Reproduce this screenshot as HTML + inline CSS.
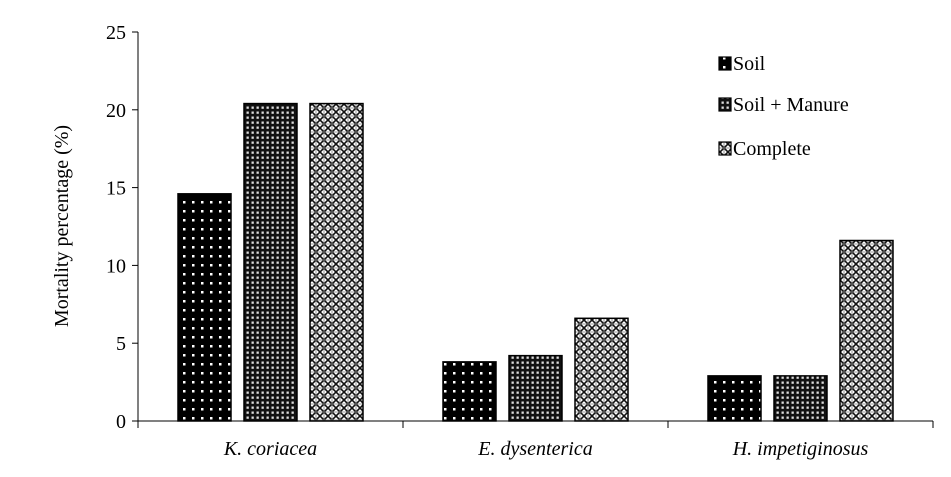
<!DOCTYPE html>
<html><head><meta charset="utf-8"><style>
html,body{margin:0;padding:0;background:#fff;}
svg{display:block;font-family:"Liberation Serif",serif;}
</style></head><body>
<svg id="chart" width="951" height="477" viewBox="0 0 951 477">
<defs>
<pattern id="pSoil" width="9" height="9" patternUnits="userSpaceOnUse">
<rect width="9" height="9" fill="#000"/><rect x="3" y="3" width="2.5" height="2.5" fill="#fff"/>
</pattern>
<pattern id="pMan" width="5" height="5" patternUnits="userSpaceOnUse">
<rect width="5" height="5" fill="#111"/><rect x="1.5" y="1.5" width="2.3" height="2.3" fill="#ddd"/>
</pattern>
<pattern id="pComp" width="8" height="8" patternUnits="userSpaceOnUse">
<rect width="8" height="8" fill="#fff"/>
<path d="M0,0L8,8M8,0L0,8" stroke="#111" stroke-width="1.6"/>
<path d="M0,4H8M4,0V8" stroke="#777" stroke-width="0.8"/>
</pattern>
</defs>
<g id="plot"></g>
</svg>
<script>
const categories = ["K. coriacea", "E. dysenterica", "H. impetiginosus"];
const seriesNames = ["Soil", "Soil + Manure", "Complete"];
const soil = [14.6, 3.8, 2.9];
const manure = [20.4, 4.2, 2.9];
const complete = [20.4, 6.6, 11.6];
const yTicks = [0, 5, 10, 15, 20, 25];

const NS = "http://www.w3.org/2000/svg";
const g = document.getElementById("plot");
const x0 = 138, x1 = 933, yBase = 421, yTop = 32, yMax = 25;
const yScale = v => yBase - (v / yMax) * (yBase - yTop);
const groupW = (x1 - x0) / categories.length;
const xCenter = i => x0 + groupW * (i + 0.5);
const barW = 53, barGap = 13;
function el(tag, attrs, text){const e=document.createElementNS(NS,tag);for(const k in attrs)e.setAttribute(k,attrs[k]);if(text!==undefined)e.textContent=text;g.appendChild(e);return e;}

// y axis
let ax = el("line",{x1:x0,y1:yTop,x2:x0,y2:yBase,stroke:"#000","stroke-width":1});


yTicks.forEach(t=>{
  const y=yScale(t);
  let tk=el("line",{x1:x0-6,y1:y,x2:x0,y2:y,stroke:"#000"});
  
  
  let lb=el("text",{x:x0-12,y:y+7,"text-anchor":"end","font-size":20},t);
  
  
});
let yt=el("text",{x:0,y:0,"font-size":20,"text-anchor":"middle",transform:"translate(68,226) rotate(-90)"},"Mortality percentage (%)");


// x axis
let xa=el("line",{x1:x0,y1:yBase,x2:x1,y2:yBase,stroke:"#000"});


for(let i=0;i<=categories.length;i++){
  const x=x0+groupW*i;
  let tk=el("line",{x1:x,y1:yBase,x2:x,y2:yBase+7,stroke:"#000"});
  
  
}
categories.forEach((c,i)=>{
  let t=el("text",{x:xCenter(i),y:yBase+34,"text-anchor":"middle","font-size":20,"font-style":"italic"},c);
  
  
});
const series=[soil,manure,complete];
const fills=["url(#pSoil)","url(#pMan)","url(#pComp)"];
const names=["bar-soil","bar-soil-manure","bar-complete"];
categories.forEach((c,i)=>{
  series.forEach((s,j)=>{
    const x=xCenter(i)+(j-1)*(barW+barGap)-barW/2;
    const y=yScale(s[i]);
    let r=el("rect",{x:x,y:y,width:barW,height:yBase-y,fill:fills[j],stroke:"#000","stroke-width":1.5});
    
    
  });
});
// legend
const legY=[70,111,155];
seriesNames.forEach((n,j)=>{
  let r=el("rect",{x:719,y:legY[j]-13,width:12,height:13,fill:fills[j],stroke:"#000","stroke-width":1.2});
  
  
  let t=el("text",{x:733,y:legY[j],"font-size":20},n);
  
  
});
</script>
</body></html>
